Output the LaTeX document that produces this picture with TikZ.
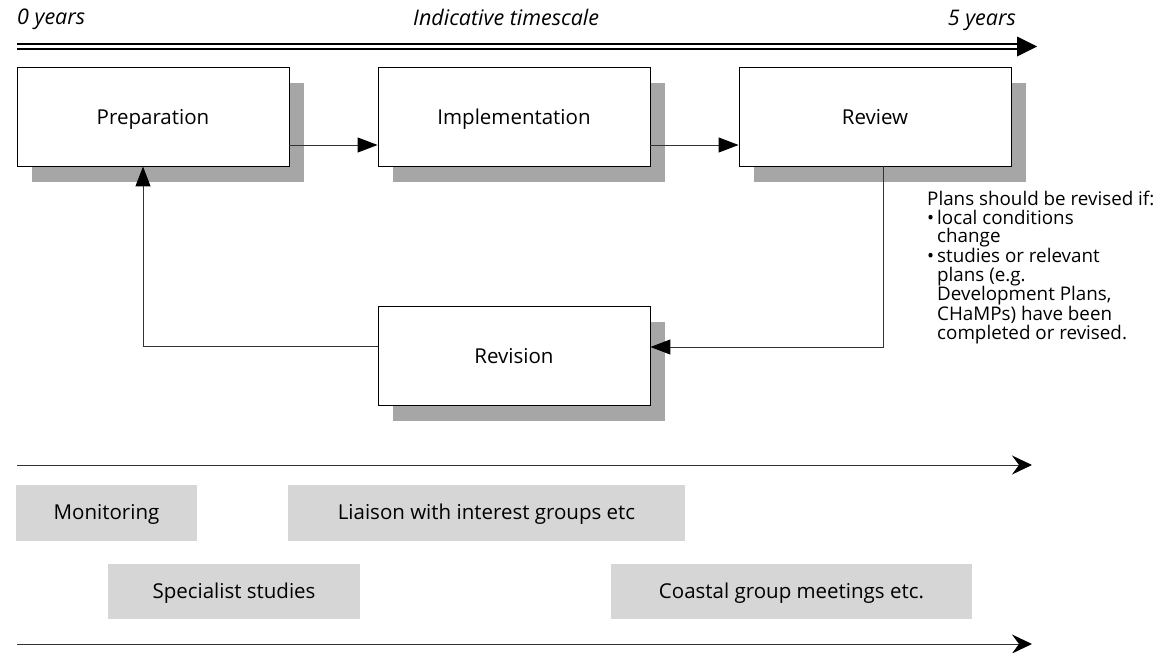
\documentclass[tikz,border=0pt]{standalone}
\usepackage{fontspec}
\setmainfont{Open Sans}
\usetikzlibrary{arrows.meta,shadows,calc}
\definecolor{shadowgray}{HTML}{A6A6A6}
\definecolor{bargray}{HTML}{D6D6D6}
\definecolor{linegray}{HTML}{333333}
\newcommand{\boxfont}{\fontsize{20.5}{24}\selectfont}
\newcommand{\notefont}{\fontsize{18.8}{18.6}\selectfont}
\newcommand{\labfont}{\fontsize{21.5}{24}\selectfont\itshape}
\begin{document}
\begin{tikzpicture}[x=1pt,y=-1pt,
  stagebox/.style={draw=black, line width=0.9pt, fill=white, minimum width=272pt, minimum height=99pt, inner sep=0pt, font=\boxfont,
    text height=15pt, text depth=0pt,
    drop shadow={shadow xshift=15pt, shadow yshift=-16pt, fill=shadowgray, opacity=1}},
  barbox/.style={fill=bargray, draw=none, inner sep=0pt, font=\boxfont, text height=13pt, text depth=0pt},
  conn/.style={draw=linegray, line width=1pt},
  tri/.style={-{Triangle[length=20pt,width=15pt,color=black]}},
  timearrow/.style={draw=linegray, line width=1pt, -{Stealth[length=20pt,width=19pt,inset=7pt,color=black]}},
  lab/.style={inner sep=0pt, font=\labfont}
]
\useasboundingbox (0,0) rectangle (1157,653);

% top timescale
\node[lab, anchor=base west] (zero) at (17,24) {0 years};
\node[lab, anchor=base west] (ind) at (413,25) {Indicative timescale};
\node[lab, anchor=base east] (five) at (1016,25) {5 years};
\coordinate (ts) at (17,46.5);
\coordinate (te) at (1019,46.5);
\draw[double=white, double distance=2.7pt, line width=2.3pt] (ts) -- (te);
\fill (1017,36.5) -- (1037,46.5) -- (1017,56.5) -- cycle;

% stage boxes
\node[stagebox] (prep) at (153,116.5) {Preparation};
\node[stagebox] (impl) at (514,116.5) {Implementation};
\node[stagebox] (rev) at (875,116.5) {Review};
\node[stagebox] (revision) at (514,355.5) {Revision};

\draw[conn, tri] ([yshift=-28.5pt]prep.east) -- ([yshift=-28.5pt]impl.west);
\draw[conn, tri] ([yshift=-28.5pt]impl.east) -- ([yshift=-28.5pt]rev.west);
\draw[conn, tri] ([xshift=8pt]rev.south) |- ([yshift=8.5pt]revision.east);
\draw[conn, tri] ([yshift=9.5pt]revision.west) -| ([xshift=-10pt]prep.south);

% note
\node[anchor=north west, align=left, inner sep=0pt, font=\notefont] (note) at (927,191)
{Plans should be revised if:\\
\makebox[10pt][l]{\textbullet}local conditions\\
\hspace*{10pt}change\\
\makebox[10pt][l]{\textbullet}studies or relevant\\
\hspace*{10pt}plans (e.g.\\
\hspace*{10pt}Development Plans,\\
\hspace*{10pt}CHaMPs) have been\\
\hspace*{10pt}completed or revised.};

% activity arrows
\coordinate (a1s) at (17,465);
\coordinate (a1e) at (1032,465);
\coordinate (a2s) at (17,644);
\coordinate (a2e) at (1032,644);
\draw[timearrow] (a1s) -- (a1e);
\draw[timearrow] (a2s) -- (a2e);

% activity bars
\node[barbox, minimum width=181pt, minimum height=56pt] (mon) at (106.5,513) {Monitoring};
\node[barbox, minimum width=397pt, minimum height=56pt] (lia) at (486.5,513) {Liaison with interest groups etc};
\node[barbox, minimum width=252pt, minimum height=55pt] (spec) at (234,591.5) {Specialist studies};
\node[barbox, minimum width=361pt, minimum height=55pt] (coast) at (791.5,591.5) {Coastal group meetings etc.};
\end{tikzpicture}
\end{document}
